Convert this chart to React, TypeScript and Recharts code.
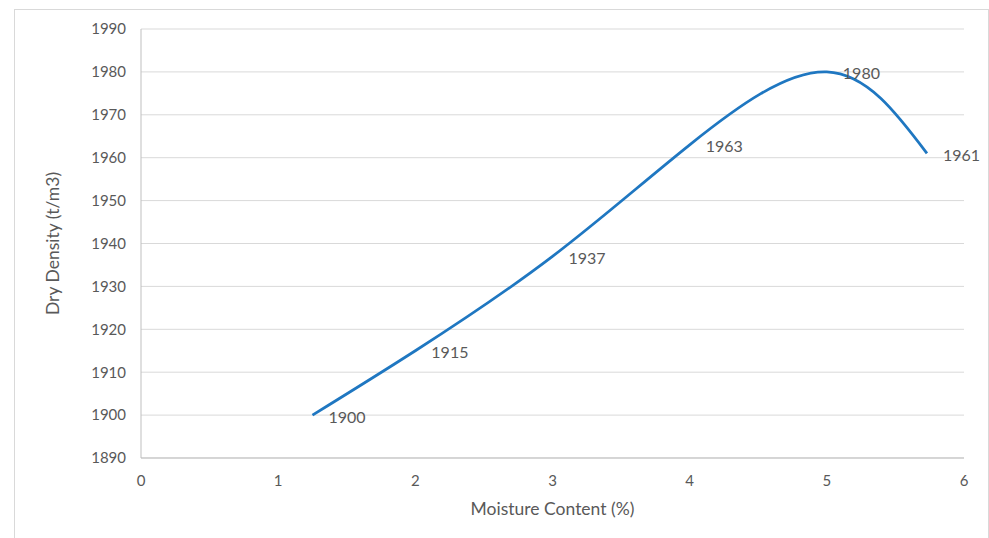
import React from 'react';
import { LineChart, Line, XAxis, YAxis, CartesianGrid, LabelList } from 'recharts';

const moisture = [1.25, 2, 3, 4, 5, 5.73];
const dryDensity = [1900, 1915, 1937, 1963, 1980, 1961];
const xTicks = [0, 1, 2, 3, 4, 5, 6];
const yTicks = [1890, 1900, 1910, 1920, 1930, 1940, 1950, 1960, 1970, 1980, 1990];

const data = moisture.map((m, i) => ({ moisture: m, density: dryDensity[i] }));

const FONT = 'Lato, "Open Sans", sans-serif';
const TEXT = '#595959';

function PointLabel(props: any) {
  const { x, y, value } = props;
  return (
    <text x={x + 16} y={y + 1} fill={TEXT} fontSize={16} fontFamily={FONT} dominantBaseline="central">
      {value}
    </text>
  );
}

function YTitle(props: any) {
  const { viewBox } = props;
  const cx = 52;
  const cy = viewBox.y + viewBox.height / 2;
  return (
    <text
      x={cx}
      y={cy}
      transform={`rotate(-90 ${cx} ${cy})`}
      textAnchor="middle"
      dominantBaseline="central"
      fill={TEXT}
      fontSize={17.5}
      fontFamily={FONT}
    >
      Dry Density (t/m3)
    </text>
  );
}

function XTitle(props: any) {
  const { viewBox } = props;
  return (
    <text
      x={viewBox.x + viewBox.width / 2}
      y={508}
      textAnchor="middle"
      dominantBaseline="central"
      fill={TEXT}
      fontSize={17.5}
      fontFamily={FONT}
    >
      Moisture Content (%)
    </text>
  );
}

export default function App() {
  return (
    <div style={{ position: 'absolute', left: 0, top: 0, width: 989, height: 538, background: '#fff', overflow: 'hidden' }}>
      <div
        style={{
          position: 'absolute',
          left: 14,
          top: 9,
          width: 973,
          height: 560,
          border: '1px solid #d9d9d9',
        }}
      />
      <div style={{ position: 'absolute', left: 0, top: 0 }}>
        <LineChart width={989} height={538} data={data} margin={{ top: 29, right: 25, bottom: 0, left: 0 }}>
          <CartesianGrid horizontal vertical={false} stroke="#d9d9d9" strokeWidth={1} />
          <XAxis
            dataKey="moisture"
            type="number"
            domain={[0, 6]}
            ticks={xTicks}
            interval={0}
            tickLine={false}
            axisLine={{ stroke: '#bfbfbf', strokeWidth: 1 }}
            tickMargin={11}
            tick={{ fill: TEXT, fontSize: 15, fontFamily: FONT }}
            height={80}
            label={<XTitle />}
          />
          <YAxis
            type="number"
            domain={[1890, 1990]}
            ticks={yTicks}
            interval={0}
            width={141}
            tickLine={false}
            axisLine={{ stroke: '#bfbfbf', strokeWidth: 1 }}
            tickMargin={9}
            tick={{ fill: TEXT, fontSize: 15, fontFamily: FONT }}
            label={<YTitle />}
          />
          <Line
            type="natural"
            dataKey="density"
            stroke="#1f77c1"
            strokeWidth={2.75}
            dot={false}
            isAnimationActive={false}
          >
            <LabelList dataKey="density" content={<PointLabel />} />
          </Line>
        </LineChart>
      </div>
    </div>
  );
}
